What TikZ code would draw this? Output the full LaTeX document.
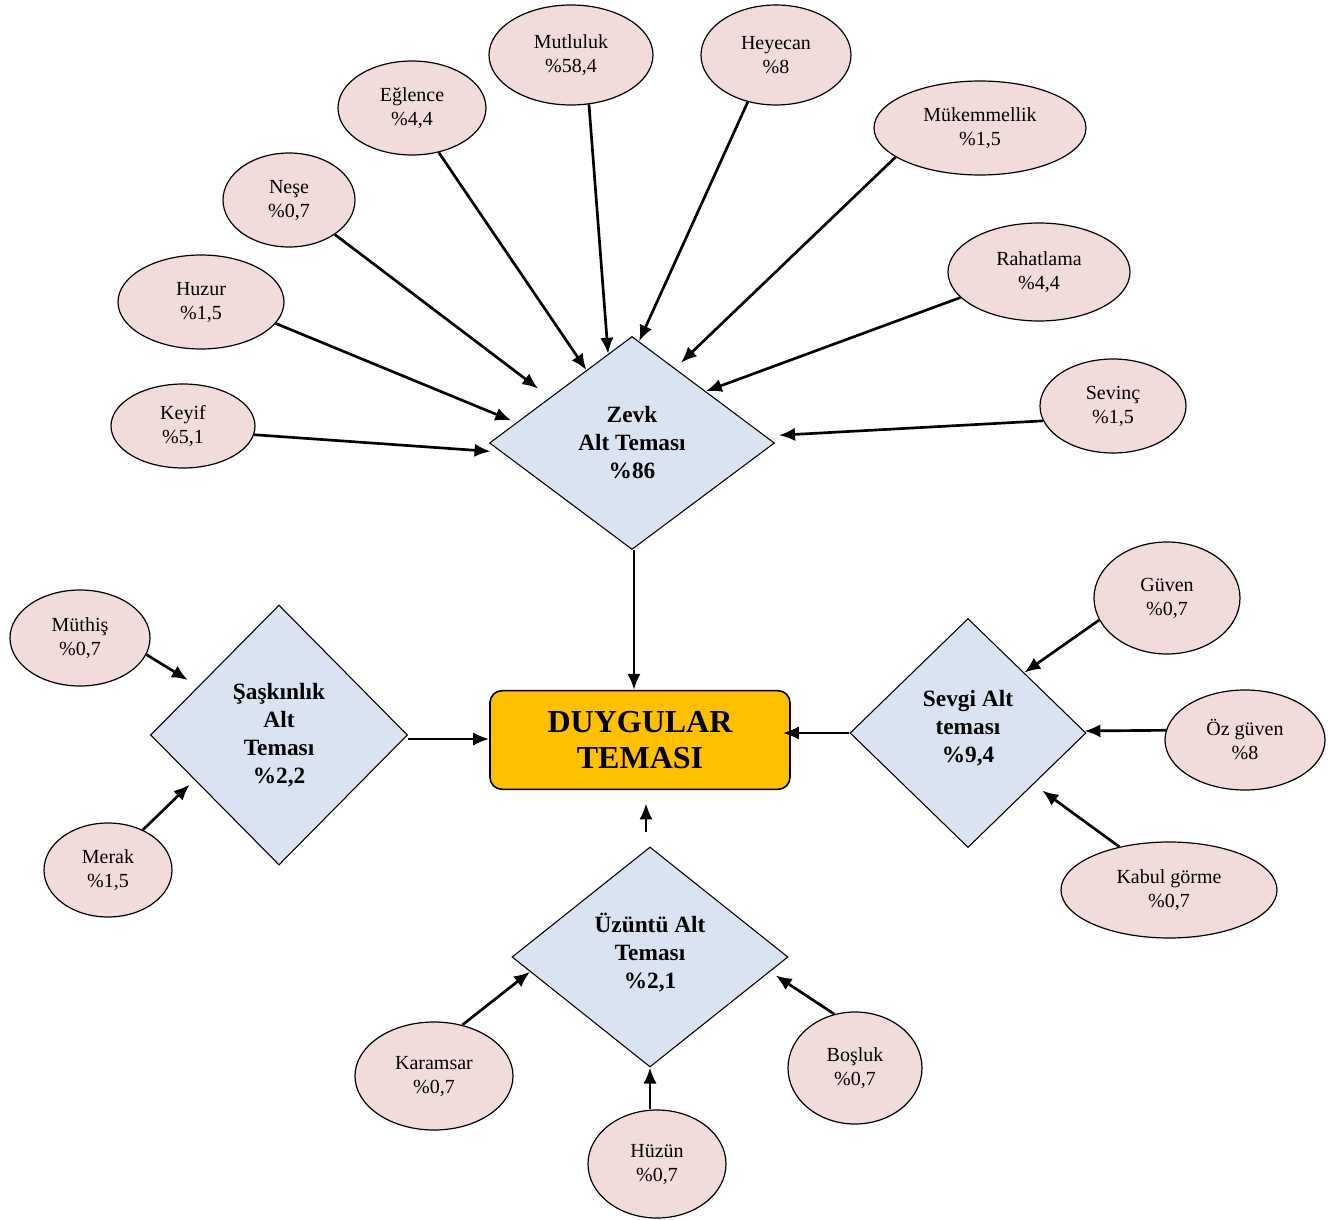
\documentclass[tikz,border=0pt]{standalone}
\usepackage{fontspec}
\setmainfont{Liberation Serif}
\usepackage{xcolor}
\usetikzlibrary{shapes.geometric, arrows.meta, positioning}

\definecolor{ovalpembe}{HTML}{F2DCDB}
\definecolor{karomavi}{HTML}{DAE3F1}
\definecolor{anasari}{HTML}{FFC000}

\begin{document}
\begin{tikzpicture}[x=0.75pt, y=-0.75pt, >={Latex[length=12pt,width=10pt]},
    duygu/.style 2 args={ellipse, draw, line width=0.9pt, fill=ovalpembe, inner sep=0pt,
        minimum width=#1, minimum height=#2, align=center, font=\fontsize{15}{18}\selectfont},
    alttema/.style 2 args={diamond, draw, line width=0.8pt, fill=karomavi, inner sep=0pt,
        minimum width=#1, minimum height=#2, align=center, font=\bfseries\fontsize{17.5}{21}\selectfont},
    anatema/.style={rectangle, rounded corners=9pt, draw, line width=1.2pt, fill=anasari,
        minimum width=225pt, minimum height=74pt, align=center, font=\bfseries\fontsize{24}{27}\selectfont},
    ok/.style={->, line width=2pt}]
    \useasboundingbox (0,0) rectangle (1329,1220);

    % Ana tema ve alt temalar
    \node[anatema] (kutu) at (640,740) {DUYGULAR\\TEMASI};
    \node[alttema={213.75pt}{159.75pt}] (zevk) at (632,443) {Zevk\\Alt Teması\\\%86};
    \node[alttema={192.75pt}{195pt}] (saskinlik) at (279,735) {Şaşkınlık\\Alt\\Teması\\\%2,2};
    \node[alttema={177pt}{171.75pt}] (sevgi) at (968,733) {Sevgi Alt\\teması\\\%9,4\\[-11pt]};
    \node[alttema={207pt}{165pt}] (uzuntu) at (650,957) {Üzüntü Alt\\Teması\\\%2,1\\[-11pt]};

    % Zevk alt temasının kodları
    \node[duygu={108pt}{63pt}] (keyif) at (183,426) {Keyif\\\%5,1};
    \node[duygu={124.5pt}{70.5pt}] (huzur) at (201,302) {Huzur\\\%1,5};
    \node[duygu={99pt}{70.5pt}] (nese) at (289,200) {Neşe\\\%0,7};
    \node[duygu={111pt}{70.5pt}] (eglence) at (412,108) {Eğlence\\\%4,4};
    \node[duygu={123pt}{75pt}] (mutluluk) at (571,55) {Mutluluk\\\%58,4};
    \node[duygu={112.5pt}{75pt}] (heyecan) at (776,55) {Heyecan\\\%8};
    \node[duygu={159pt}{70.5pt}] (mukemmellik) at (980,128) {Mükemmellik\\\%1,5};
    \node[duygu={136.5pt}{73.5pt}] (rahatlama) at (1039,272) {Rahatlama\\\%4,4};
    \node[duygu={109.5pt}{70.5pt}] (sevinc) at (1113,406) {Sevinç\\\%1,5};

    % Diğer alt temaların kodları
    \node[duygu={105pt}{72pt}] (muthis) at (80,638) {Müthiş\\\%0,7};
    \node[duygu={96pt}{70.5pt}] (merak) at (108,870) {Merak\\\%1,5};
    \node[duygu={109.5pt}{84pt}] (guven) at (1167,598) {Güven\\\%0,7};
    \node[duygu={120pt}{75pt}] (ozguven) at (1245,740) {Öz güven\\\%8};
    \node[duygu={162pt}{72pt}] (kabul) at (1169,890) {Kabul görme\\\%0,7};
    \node[duygu={118.5pt}{81pt}] (karamsar) at (434,1076) {Karamsar\\\%0,7};
    \node[duygu={103.5pt}{81pt}] (huzun) at (657,1164) {Hüzün\\\%0,7};
    \node[duygu={100.5pt}{84pt}] (bosluk) at (855,1068) {Boşluk\\\%0,7};

    % Oklar: Zevk
    \draw[ok, shorten >=8pt] (keyif.-7) -- (zevk.184);
    \draw[ok, shorten >=4pt] (huzur.-16) -- (zevk.170);
    \draw[ok, shorten >=11pt] (nese.-37) -- (zevk.151);
    \draw[ok] (eglence.-59) -- (zevk.122);
    \draw[ok] (mutluluk.-70) -- (zevk.105);
    \draw[ok] (heyecan.-121) -- (zevk.86.5);
    \draw[ok, shorten >=6pt] (mukemmellik.-161) -- (zevk.60);
    \draw[ok] (rahatlama.-162) -- (zevk.35);
    \draw[ok, shorten >=10pt] (sevinc.-168) -- (zevk.3.6);

    % Oklar: Şaşkınlık, Sevgi, Üzüntü
    \draw[ok, shorten >=9pt] (muthis.-14) -- (saskinlik.149);
    \draw[ok, shorten >=5pt] (merak.49) -- (saskinlik.208);
    \draw[ok] (guven.-162) -- (sevgi.47);
    \draw[ok] (ozguven.173) -- (sevgi.1.5);
    \draw[ok, shorten >=8pt] (kabul.139) -- (sevgi.-38);
    \draw[ok] (karamsar.61) -- (uzuntu.187);
    \draw[ok] (huzun.north -| uzuntu.south) -- (uzuntu.south);
    \draw[ok, shorten >=5pt] (bosluk.111) -- (uzuntu.-7);

    % Alt temalardan ana temaya
    \draw[ok] ([xshift=1.5pt]zevk.south) -- ([xshift=1.5pt]zevk.south |- kutu.north);
    \draw[ok] ([yshift=-3pt]saskinlik.east) -- ([yshift=-3pt]saskinlik.east -| kutu.west);
    \draw[ok, shorten >=-6pt] (sevgi.west) -- (sevgi.west -| kutu.east);
    \draw[ok, shorten >=10pt] ([xshift=-3pt,yshift=11pt]uzuntu.north) -- ([xshift=-3pt]uzuntu.north |- kutu.south);
\end{tikzpicture}
\end{document}
